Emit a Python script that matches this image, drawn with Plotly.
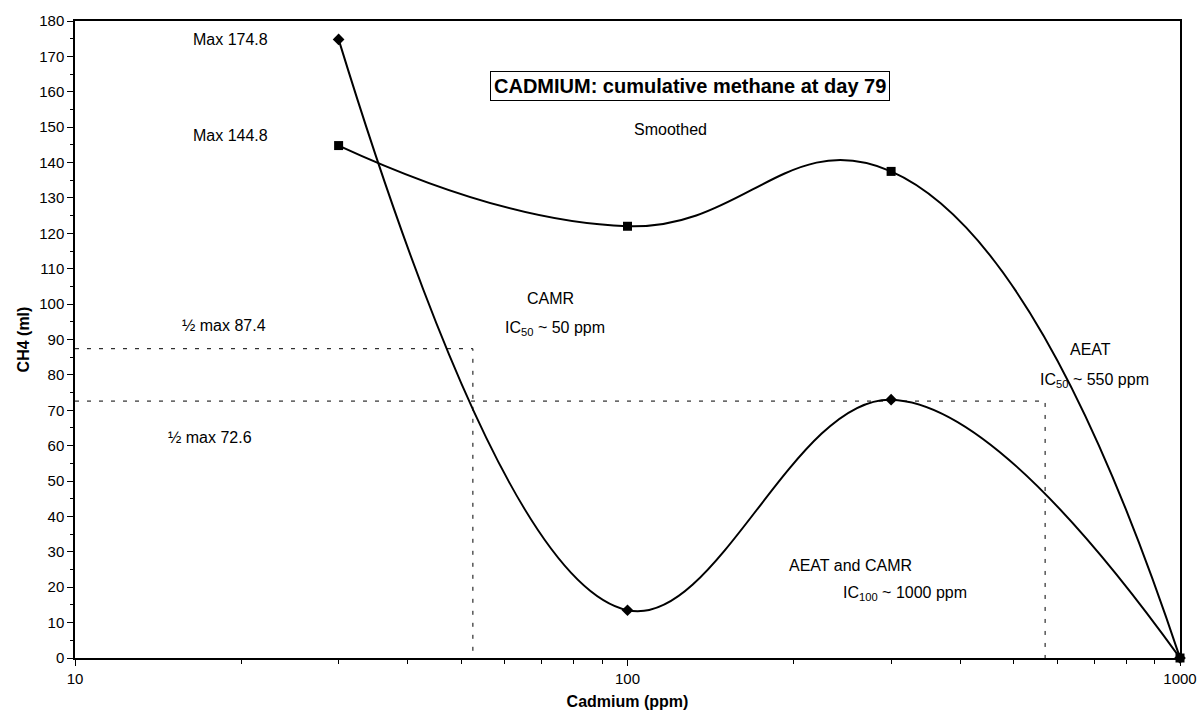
import plotly.graph_objects as go

# Data
cadmium_ppm = [30, 100, 300, 1000]
aeat_ch4 = [144.8, 122.0, 137.5, 0.0]     # squares
camr_ch4 = [174.8, 13.5, 73.0, 0.0]      # diamonds

half_max_camr = 87.4
half_max_aeat = 72.6
ic50_camr = 52.5
ic50_aeat = 570

y_ticks = list(range(0, 181, 10))
x_ticks = [10, 100, 1000]

FONT = "Liberation Sans, Arial, sans-serif"

fig = go.Figure()

# Dotted guide lines (half max levels and IC50 drop lines)
dash = "4px,8px"
for y_val, x_val in [(half_max_camr, ic50_camr), (half_max_aeat, ic50_aeat)]:
    fig.add_trace(go.Scatter(
        x=[10, x_val, x_val], y=[y_val, y_val, 0], mode="lines",
        line=dict(color="black", width=1, dash=dash), showlegend=False,
        hoverinfo="skip"))

fig.add_trace(go.Scatter(
    x=cadmium_ppm, y=camr_ch4, mode="lines+markers",
    line=dict(color="black", width=2, shape="spline", smoothing=1.1),
    marker=dict(symbol="diamond", size=9, color="black"),
    showlegend=False, cliponaxis=False))
fig.add_trace(go.Scatter(
    x=cadmium_ppm, y=aeat_ch4, mode="lines+markers",
    line=dict(color="black", width=2, shape="spline", smoothing=1.3),
    marker=dict(symbol="square", size=9, color="black"),
    showlegend=False, cliponaxis=False))

L, R, T, B = 75, 1180, 21, 658


def ann(text, px, py, size=16, **kw):
    fig.add_annotation(x=(px - L) / (R - L), y=(B - py) / (B - T), xref="paper", yref="paper",
                       xanchor="center", yanchor="middle",
                       text=text, showarrow=False,
                       font=dict(family=FONT, size=size, color="black"), **kw)


ann("Max 174.8", 230, 40)
ann("Max 144.8", 230, 136)
ann("Smoothed", 670, 129)
ann("CAMR", 550, 298)
ann("IC<sub>50</sub> ~ 50 ppm", 555, 329)
ann("½ max 87.4", 224, 325)
ann("½ max 72.6", 210, 437)
ann("AEAT", 1090, 349)
ann("IC<sub>50</sub> ~ 550 ppm", 1094, 380)
ann("AEAT and CAMR", 850, 565)
ann("IC<sub>100</sub> ~ 1000 ppm", 905, 593)
ann("<b>CADMIUM: cumulative methane at day 79</b>", 690, 86, size=20,
    bordercolor="black", borderwidth=1, borderpad=3, bgcolor="white")

fig.update_layout(
    width=1199, height=719,
    margin=dict(l=L, r=1199 - R, t=T, b=719 - B),
    paper_bgcolor="white", plot_bgcolor="white",
    font=dict(family=FONT, size=15, color="black"),
    xaxis=dict(type="log", range=[1, 3], tickvals=x_ticks, ticktext=[str(v) for v in x_ticks],
               showgrid=False, zeroline=False, showline=True, linecolor="black", linewidth=1.5,
               mirror=True, ticks="outside", ticklen=6, tickcolor="black", automargin=False,
               minor=dict(ticks="outside", ticklen=4, tickcolor="black",
                          tickvals=[v * d for d in (10, 100) for v in range(2, 10)]),
               title=dict(text="<b>Cadmium (ppm)</b>", font=dict(family=FONT, size=16), standoff=10)),
    yaxis=dict(range=[0, 180], tickvals=y_ticks, showgrid=False, zeroline=False,
               showline=True, linecolor="black", linewidth=1.5, mirror=True, automargin=False,
               ticks="outside", ticklen=6, tickcolor="black",
               minor=dict(ticks="outside", ticklen=3, tickcolor="black", dtick=5),
               title=dict(text="<b>CH4 (ml)</b>", font=dict(family=FONT, size=16), standoff=6)),
)

fig.write_html("out.html")
